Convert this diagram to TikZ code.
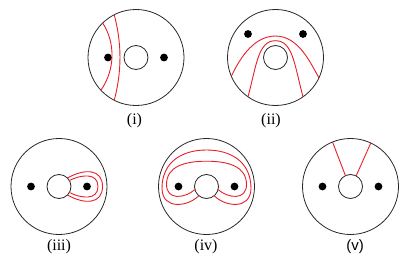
\documentclass[tikz,border=0pt]{standalone}
\usepackage{fontspec}
\setmainfont{Liberation Serif}
\newfontfamily\labelsans{Liberation Sans}
\usetikzlibrary{positioning}

\definecolor{curvered}{RGB}{232,30,38}

\begin{document}
\begin{tikzpicture}[
  x=1pt, y=1pt,
  disk/.style={draw=black!85, line width=0.8pt},
  puncture/.style={fill=black},
  curve/.style={draw=curvered, line width=0.9pt},
  lbl/.style={font=\fontsize{16}{19}\selectfont, inner sep=0pt},
]
\useasboundingbox (0,0) rectangle (415,271);

% --- (i): two arcs left of the hole ---
\begin{scope}[shift={(136,213.5)}]
  \draw[disk] (0,0) circle (48);
  \draw[disk] (0,0) circle (12);
  \fill[puncture] (-28,0) circle (3.9);
  \fill[puncture] (28,0) circle (3.9);
  \draw[curve] (134:48) .. controls (-20.2,14.4) and (-21,-12.6) .. (223:48);
  \draw[curve] (117:48) .. controls (-14.1,14) and (-14.1,-14) .. (243:48);
\end{scope}
\node[lbl] (lab-i) at (134.5,150) {(i)};

% --- (ii): two arches over the hole ---
\begin{scope}[shift={(275.5,213.5)}]
  \draw[disk] (0,0) circle (48);
  \draw[disk] (0,0) circle (12);
  \fill[puncture] (-27.5,23.5) circle (3.9);
  \fill[puncture] (27.5,23.5) circle (3.9);
  \draw[curve] (203:48) .. controls (-38,-6) and (-24,21.5) .. (0,21.5)
    .. controls (24,21.5) and (36,-8) .. (335:48);
  \draw[curve] (235:48) .. controls (-19,-8) and (-17.5,16.8) .. (0,16.8)
    .. controls (17.5,16.8) and (19,-8) .. (305:48);
\end{scope}
\node[lbl] (lab-ii) at (271,150) {(ii)};

% --- (iii): two loops round the right puncture ---
\begin{scope}[shift={(59,84.5)}]
  \draw[disk] (0,0) circle (48);
  \draw[disk] (0,0) circle (12);
  \fill[puncture] (-28,0) circle (3.9);
  \fill[puncture] (28,0) circle (3.9);
  \draw[curve] (30:12) .. controls (22,12) and (39,14) .. (39,0)
    .. controls (39,-14) and (22,-12) .. (-30:12);
  \draw[curve] (45:12) .. controls (25,18) and (43.5,18) .. (43.5,0)
    .. controls (43.5,-18) and (25,-18) .. (-45:12);
\end{scope}
\node[lbl] (lab-iii) at (59,24) {(iii)};

% --- (iv): two curves round both punctures ---
\begin{scope}[shift={(206.5,84.5)}]
  \draw[disk] (0,0) circle (48);
  \draw[disk] (0,0) circle (12);
  \fill[puncture] (-28,0) circle (3.9);
  \fill[puncture] (28,0) circle (3.9);
  \draw[curve] (195:12) .. controls (-22,-12) and (-40,-14) .. (-40,2)
    .. controls (-40,20) and (-22,25.3) .. (0,25.3)
    .. controls (22,25.3) and (40,20) .. (40,2)
    .. controls (40,-14) and (22,-12) .. (-15:12);
  \draw[curve] (230:12) .. controls (-18,-20) and (-44,-24) .. (-44.5,-2)
    .. controls (-44.5,25) and (-24,36.5) .. (0,36.5)
    .. controls (24,36.5) and (44.5,25) .. (44.5,-2)
    .. controls (44,-24) and (18,-20) .. (310:12);
\end{scope}
\node[lbl] (lab-iv) at (206,24) {(iv)};

% --- (v): two segments from the hole to the boundary ---
\begin{scope}[shift={(350.5,84.5)}]
  \draw[disk] (0,0) circle (48);
  \draw[disk] (0,0) circle (12);
  \fill[puncture] (-28,0) circle (3.9);
  \fill[puncture] (28,0) circle (3.9);
  \draw[curve] (115:12) -- (112:48);
  \draw[curve] (62:12) -- (65:48);
\end{scope}
\node[lbl, font=\fontsize{15}{18}\labelsans] (lab-v) at (355,24) {(v)};

\end{tikzpicture}
\end{document}
